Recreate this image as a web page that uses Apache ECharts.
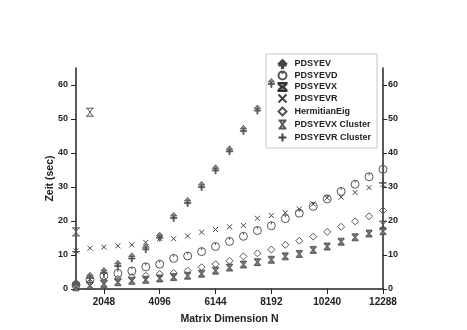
<!DOCTYPE html>
<html>
<head>
<meta charset="utf-8">
<script src="https://cdn.jsdelivr.net/npm/echarts@6/dist/echarts.min.js"></script>
<style>
  html, body { margin: 0; padding: 0; background: #fff; }
  #main { width: 467px; height: 330px; }
</style>
</head>
<body>
<div id="main"></div>
<script>
// matrix sizes (x)
const dims = [1024, 1536, 2048, 2560, 3072, 3584, 4096, 4608, 5120, 5632, 6144, 6656,
  7168, 7680, 8192, 8704, 9216, 9728, 10240, 10752, 11264, 11776, 12288];
const xTicks = [2048, 4096, 6144, 8192, 10240, 12288];
const yTicks = [0, 10, 20, 30, 40, 50, 60];

// times in seconds
const pdsyev = [1.5, 3.6, 5.0, 7.1, 9.3, 12.0, 15.4, 21.2, 25.6, 30.3, 35.2, 40.8,
  46.8, 52.8, 60.6, null, null, null, null, null, null, null, null];
const pdsyevd = [1.2, 2.8, 3.9, 4.6, 5.3, 6.5, 7.3, 9.0, 9.7, 11.0, 12.5, 14.0,
  15.5, 17.2, 18.6, 20.7, 22.3, 24.3, 26.5, 28.7, 30.8, 33.0, 35.2];
const pdsyevx = [0.5, 1.0, 1.5, 2.0, 2.4, 2.7, 3.1, 3.5, 3.9, 4.5, 5.4, 6.3,
  7.2, 7.9, 8.6, 9.6, 10.3, 11.5, 12.5, 13.9, 15.2, 16.3, 17.0];
const pdsyevr = [11.2, 12.0, 12.3, 12.7, 13.0, 13.7, 14.9, 14.8, 15.6, 16.7, 17.5, 18.3,
  18.7, 20.8, 21.6, 22.4, 23.5, 25.0, 26.8, 27.0, 28.4, 29.8, 30.7];
const hermitianEig = [0.9, 1.9, 2.5, 3.0, 3.5, 3.9, 4.4, 4.7, 5.4, 6.4, 7.3, 8.3,
  9.6, 10.5, 11.6, 13.0, 14.2, 15.4, 16.8, 18.3, 19.9, 21.4, 23.1];
const pdsyevxCluster = [16.8, 52.0, null, null, null, null, null, null, null, null, null, null,
  null, null, null, null, null, null, null, null, null, null, 18.8];
const pdsyevrCluster = [11.0, null, null, null, null, null, null, null, null, null, null, null,
  null, null, null, null, null, null, null, null, null, null, 31.2];

const font = "'Liberation Sans', Arial, sans-serif";
const ink = "#222";

const sym = {
  arrow: "path://M5,0 L9,4 L1,4 Z M1,5.6 L9,5.6 L9,6.8 L1,6.8 Z M4.3,4 L5.7,4 L5.7,10 L4.3,10 Z",
  clock: "path://M0,5 A5,5 0 1,1 10,5 A5,5 0 1,1 0,5 Z M5,0 L5,3.2",
  hourglass: "path://M0,0 L10,0 L10,1.2 L6,5 L10,8.8 L10,10 L0,10 L0,8.8 L4,5 L0,1.2 Z",
  cross: "path://M0,0 L10,10 M10,0 L0,10",
  diamond: "path://M5,0 L10,5 L5,10 L0,5 Z",
  xbar: "path://M0,0 L10,0 M0,10 L10,10 M1.5,0 L8.5,10 M8.5,0 L1.5,10",
  plus: "path://M5,0 L5,10 M0,5 L10,5"
};

function pts(vals) {
  return dims.map((d, i) => [d, vals[i]]).filter(p => p[1] != null);
}

function mk(name, vals, symbol, size, fill, stroke, bw) {
  return {
    name,
    type: "scatter",
    z: 5,
    data: pts(vals),
    symbol,
    symbolSize: size,
    symbolKeepAspect: true,
    itemStyle: { color: fill, borderColor: stroke, borderWidth: bw, opacity: 1 },
    emphasis: { disabled: true }
  };
}

const series = [
  mk("PDSYEV", pdsyev, sym.arrow, [8, 9], "#888", "#444", 0.7),
  mk("PDSYEVD", pdsyevd, sym.clock, 8, "none", "#555", 1),
  mk("PDSYEVX", pdsyevx, sym.hourglass, [6, 7], "#777", "#333", 0.7),
  mk("PDSYEVR", pdsyevr, sym.cross, 5, "none", "#444", 1),
  mk("HermitianEig", hermitianEig, sym.diamond, 7, "none", "#555", 1),
  mk("PDSYEVX Cluster", pdsyevxCluster, sym.xbar, 8, "none", "#555", 1),
  mk("PDSYEVR Cluster", pdsyevrCluster, sym.plus, 8, "none", "#444", 1)
];

const yAxisBase = {
  type: "value",
  min: 0,
  max: 65,
  splitLine: { show: false },
  axisLine: { show: true, onZero: false, lineStyle: { color: ink, width: 1.5 } },
  axisTick: { show: true, customValues: yTicks, length: 5, lineStyle: { color: ink, width: 1 } },
  axisLabel: { customValues: yTicks, color: ink, fontFamily: font, fontWeight: "bold", fontSize: 9 }
};

const option = {
  backgroundColor: "#fff",
  animation: false,
  grid: { left: 76, right: 84, top: 68, bottom: 37 },
  legend: {
    z: 1,
    orient: "vertical",
    left: 266,
    top: 54,
    padding: [5, 6, 4, 10],
    itemWidth: 14,
    itemHeight: 8,
    itemGap: 0,
    borderColor: "#c8c8c8",
    borderWidth: 1,
    backgroundColor: "#fff",
    textStyle: { color: ink, fontFamily: font, fontWeight: "bold", fontSize: 9, lineHeight: 9 }
  },
  xAxis: {
    type: "value",
    min: 1024,
    max: 12288,
    name: "Matrix Dimension N",
    nameLocation: "middle",
    nameGap: 25,
    nameMoveOverlap: false,
    nameTextStyle: { color: ink, fontFamily: font, fontWeight: "bold", fontSize: 10.5 },
    splitLine: { show: false },
    axisLine: { show: true, onZero: false, lineStyle: { color: ink, width: 1.5 } },
    axisTick: { show: true, customValues: xTicks, length: 5, lineStyle: { color: ink, width: 1 } },
    axisLabel: {
      customValues: xTicks, margin: 8, color: ink, fontFamily: font, fontWeight: "bold", fontSize: 10,
      formatter: v => String(v)
    }
  },
  yAxis: [
    Object.assign({}, yAxisBase, {
      position: "left",
      name: "Zeit (sec)",
      nameLocation: "middle",
      nameGap: 20,
      nameMoveOverlap: false,
      nameTextStyle: { color: ink, fontFamily: font, fontWeight: "bold", fontSize: 10.5 },
      axisLabel: Object.assign({}, yAxisBase.axisLabel, { margin: 8 })
    }),
    Object.assign({}, yAxisBase, {
      position: "right",
      axisLabel: Object.assign({}, yAxisBase.axisLabel, { margin: 5 }),
      axisTick: Object.assign({}, yAxisBase.axisTick, { length: 4 })
    })
  ],
  series
};

const myChart = echarts.init(document.getElementById("main"));
myChart.setOption(option);
</script>
</body>
</html>
